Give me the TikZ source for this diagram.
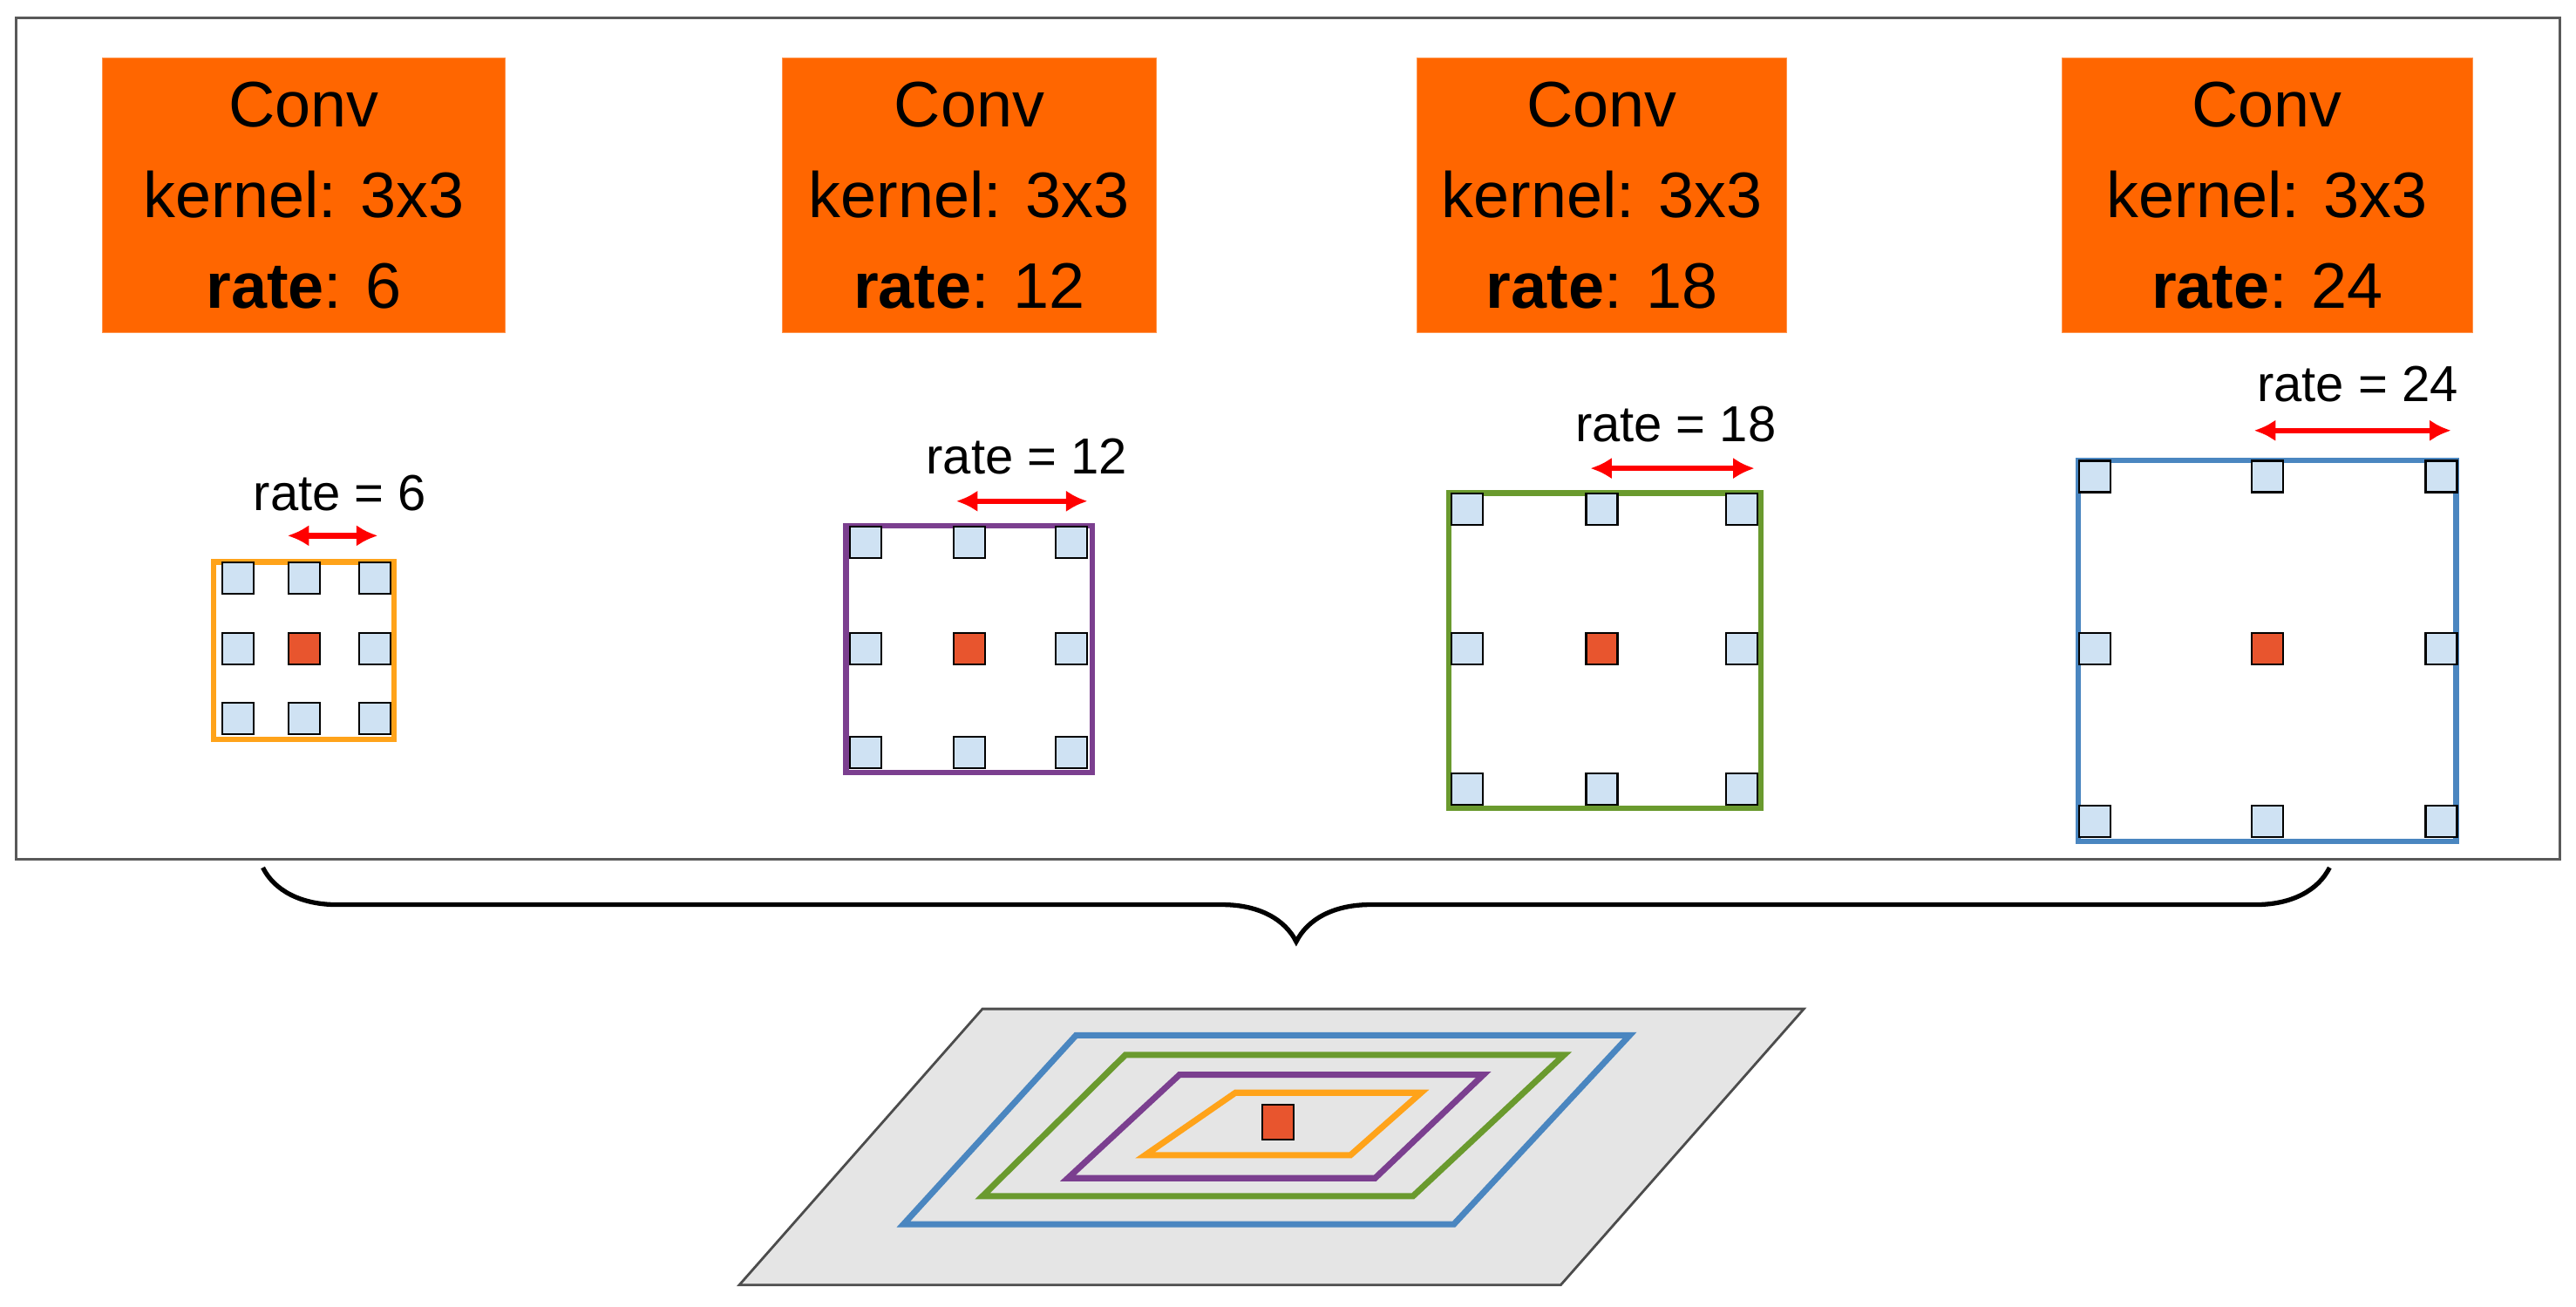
\documentclass[tikz,border=0pt]{standalone}
\usepackage{fontspec}
\setmainfont{Liberation Sans}
\usetikzlibrary{decorations.pathreplacing,arrows.meta}
\definecolor{boxor}{HTML}{FF6600}
\definecolor{sq}{HTML}{CFE2F3}
\definecolor{ctr}{HTML}{E8552E}
\definecolor{gor}{HTML}{FFA31A}
\definecolor{gpu}{HTML}{7B3F8F}
\definecolor{ggr}{HTML}{6A9A2E}
\definecolor{gbl}{HTML}{4A86C0}
\begin{document}
\begin{tikzpicture}[x=0.01885cm,y=-0.01885cm,
  conv/.style={fill=boxor,draw=boxor!70,minimum width=#1,minimum height=6.3cm*0.0+3.15cm,align=center,font=\fontsize{21}{29.5}\selectfont,inner sep=0pt},
  cell/.style={draw=black,line width=0.6pt,fill=sq,minimum size=0.36cm,inner sep=0pt},
  center/.style={cell,fill=ctr},
  grid/.style={line width=1.8pt},
  ratelbl/.style={font=\fontsize{16.5}{20}\selectfont,inner sep=0pt},
  rarr/.style={red,line width=1.8pt,{Latex[length=7pt,width=7pt]}-{Latex[length=7pt,width=7pt]}},
  plane/.style={line width=2pt}]
\useasboundingbox (0,0) rectangle (1568,795);
\draw[gray!70!black,line width=0.8pt] (10,11) rectangle (1558,523);
\node[conv=4.62cm] (c1) at (185,119) {Conv\\kernel: 3x3\\\textbf{rate}: 6};
\node[conv=4.29cm] (c2) at (590,119) {Conv\\kernel: 3x3\\\textbf{rate}: 12};
\node[conv=4.24cm] (c3) at (975,119) {Conv\\kernel: 3x3\\\textbf{rate}: 18};
\node[conv=4.71cm] (c4) at (1380,119) {Conv\\kernel: 3x3\\\textbf{rate}: 24};
% grids
\foreach \i/\col/\l/\t/\r/\b/\xs/\ys/\ax/\bx/\ay/\lx/\ly/\txt in {
  1/gor/130/342/240/450/{145,185,228}/{352,395,437}/175/230/326/207/300/{rate = 6},
  2/gpu/515/320/665/470/{527,590,652}/{330,395,458}/582/662/305/625/278/{rate = 12},
  3/ggr/882/300/1072/492/{893,975,1060}/{310,395,480}/968/1068/285/1020/258/{rate = 18},
  4/gbl/1265/280/1495/512/{1275,1380,1486}/{290,395,500}/1372/1492/262/1435/234/{rate = 24}}{
  \draw[grid,draw=\col] (\l,\t) rectangle (\r,\b);
  \foreach \x [count=\m] in \xs {
    \foreach \y [count=\n] in \ys {
      \ifnum\m=2 \ifnum\n=2
        \node[center] (g\i-\m\n) at (\x,\y) {};
      \else \node[cell] (g\i-\m\n) at (\x,\y) {}; \fi
      \else \node[cell] (g\i-\m\n) at (\x,\y) {}; \fi
    }}
  \coordinate (a\i) at (\ax,\ay);
  \coordinate (b\i) at (\bx,\ay);
  \draw[rarr] (a\i) -- (b\i);
  \node[ratelbl] (r\i) at (\lx,\ly) {\txt};
}
% brace
\coordinate (br1) at (160,528);
\coordinate (br2) at (1418,528);
\draw[line width=1.5pt,decorate,decoration={brace,mirror,amplitude=0.85cm}] (br1) -- (br2);
% plane
\draw[fill=gray!20,draw=gray!60!black,line width=0.8pt] (598,614) -- (1098,614) -- (950,782) -- (450,782) -- cycle;
\draw[plane,gbl] (655,630) -- (992,630) -- (885,745) -- (550,745) -- cycle;
\draw[plane,ggr] (685,642) -- (952,642) -- (860,728) -- (598,728) -- cycle;
\draw[plane,gpu] (718,654) -- (903,654) -- (837,717) -- (650,717) -- cycle;
\draw[plane,gor] (752,665) -- (865,665) -- (822,703) -- (697,703) -- cycle;
\node[draw=black,line width=0.6pt,fill=ctr,minimum width=0.36cm,minimum height=0.4cm,inner sep=0pt] (pc) at (778,683) {};
\end{tikzpicture}
\end{document}
